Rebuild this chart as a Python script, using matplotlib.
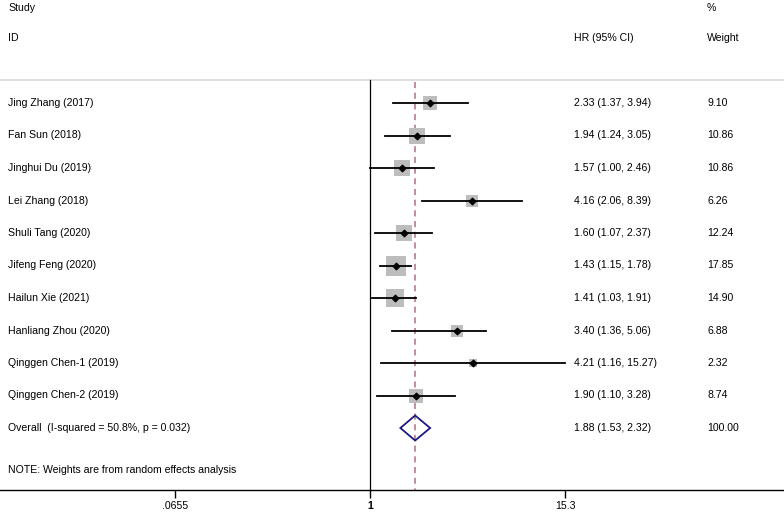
import numpy as np
import matplotlib.pyplot as plt
from matplotlib.patches import Polygon

plt.rcParams['font.family'] = ['Liberation Sans', 'DejaVu Sans']

studies = ["Jing Zhang (2017)", "Fan Sun (2018)", "Jinghui Du (2019)", "Lei Zhang (2018)",
           "Shuli Tang (2020)", "Jifeng Feng (2020)", "Hailun Xie (2021)",
           "Hanliang Zhou (2020)", "Qinggen Chen-1 (2019)", "Qinggen Chen-2 (2019)"]
hr = [2.33, 1.94, 1.57, 4.16, 1.60, 1.43, 1.41, 3.40, 4.21, 1.90]
lo = [1.37, 1.24, 1.00, 2.06, 1.07, 1.15, 1.03, 1.36, 1.16, 1.10]
hi = [3.94, 3.05, 2.46, 8.39, 2.37, 1.78, 1.91, 5.06, 15.27, 3.28]
weights = [9.10, 10.86, 10.86, 6.26, 12.24, 17.85, 14.90, 6.88, 2.32, 8.74]
overall = (1.88, 1.53, 2.32)
overall_label = "Overall  (I-squared = 50.8%, p = 0.032)"
note = "NOTE: Weights are from random effects analysis"
xticks = [0.0655, 1, 15.3]
xticklabels = [".0655", "1", "15.3"]

W, H = 784, 513
fig = plt.figure(figsize=(W / 100, H / 100), dpi=100)
ax = fig.add_axes([0, (H - 490) / H, 1, 490 / H])

# log x-axis: x=1 at 370 px, 15.3 at 565 px
L = np.log(15.3)

def xcol(px):
    # pixel column -> data x on the log axis
    return np.exp((px - 370) / 195 * L)

ax.set_xscale('log')
ax.set_xlim(xcol(0), xcol(W))
ax.set_ylim(490, 0)   # y in pixel rows from top

row0, step = 103, 32.5
rows = [row0 + i * step for i in range(len(studies))]
y_over = row0 + len(studies) * step

fs = 7.6
x_lab, x_hr, x_w = xcol(8), xcol(574), xcol(707)
ax.text(x_lab, 8, "Study", fontsize=fs, va='center')
ax.text(x_lab, 38, "ID", fontsize=fs, va='center')
ax.text(x_w, 8, "%", fontsize=fs, va='center')
ax.text(x_hr, 38, "HR (95% CI)", fontsize=fs, va='center')
ax.text(x_w, 38, "Weight", fontsize=fs, va='center')

# separator and reference lines
ax.axhline(80, color='#d9d9d9', lw=1.2)
ax.plot([1, 1], [80, 490], color='black', lw=0.9)
ax.plot([overall[0], overall[0]], [82, 490], color='#b0707a', lw=1.1, ls=(0, (4, 3)))

for y, name, h, l, u, w in zip(rows, studies, hr, lo, hi, weights):
    side = 4.6 * np.sqrt(w) * 0.72
    ax.scatter([h], [y], marker='s', s=side ** 2, color='#bdbdbd', zorder=2, linewidths=0)
    ax.plot([l, u], [y, y], color='black', lw=1.3, zorder=3)
    ax.scatter([h], [y], marker='D', s=11, color='black', zorder=4)
    ax.text(x_lab, y, name, fontsize=fs, va='center')
    ax.text(x_hr, y, f"{h:.2f} ({l:.2f}, {u:.2f})", fontsize=fs, va='center')
    ax.text(x_w, y, f"{w:.2f}", fontsize=fs, va='center')

est, l, u = overall
diamond = Polygon([[l, y_over], [est, y_over - 12.5], [u, y_over], [est, y_over + 12.5]],
                  closed=True, fill=False, edgecolor='#1a1a80', lw=1.3, zorder=4)
ax.add_patch(diamond)
ax.text(x_lab, y_over, overall_label, fontsize=fs, va='center')
ax.text(x_hr, y_over, f"{est:.2f} ({l:.2f}, {u:.2f})", fontsize=fs, va='center')
ax.text(x_w, y_over, "100.00", fontsize=fs, va='center')
ax.text(x_lab, 470, note, fontsize=fs, va='center')

for s in ['top', 'right', 'left']:
    ax.spines[s].set_visible(False)
ax.spines['bottom'].set_linewidth(1.0)
ax.set_yticks([])
ax.set_xticks(xticks)
ax.set_xticklabels(xticklabels, fontsize=fs)
ax.minorticks_off()
ax.tick_params(axis='x', length=6, width=1.0, pad=2)
ax.get_xticklabels()[1].set_fontweight('bold')

fig.savefig("out.png", dpi=100)
